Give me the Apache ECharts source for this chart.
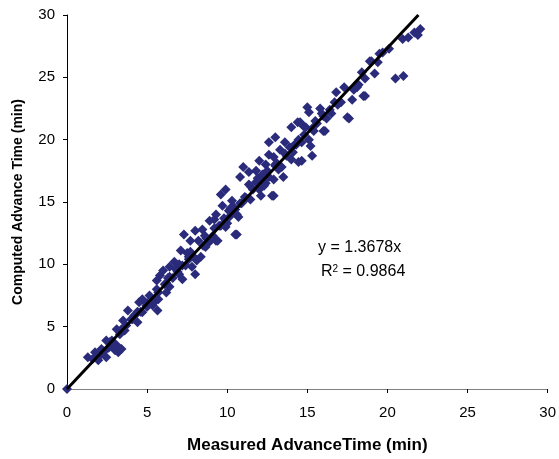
<!DOCTYPE html>
<html><head><meta charset="utf-8">
<script src="https://cdn.jsdelivr.net/npm/echarts@6/dist/echarts.min.js"></script>
<style>html,body{margin:0;padding:0;background:#fff;overflow:hidden}#c{width:559px;height:459px}</style>
</head><body><div id="c"></div>
<script>
const measured = [0,
22.05,21.68,20.95,19.5,19.0,18.4,18.6,19.2,20.5,21.0,18.5,18.2,
18.9,19.4,18.1,17.3,16.8,17.0,18.6,15.0,15.1,15.8,15.9,16.5,17.6,16.2,14.4,14.75,15.3,16.1,15.1,14.65,15.2,
17.5,14.55,14.0,14.9,16.0,15.4,13.0,12.6,13.6,14.45,13.9,13.3,12.6,12.9,14.0,14.65,15.3,12.0,12.4,13.0,13.4,11.8,12.5,12.1,11.8,12.6,13.5,12.8,11.35,12.0,
14.45,11.0,10.8,12.9,11.35,9.9,9.6,10.3,12.1,12.9,11.45,9.7,10.5,10.1,10.7,9.3,8.9,9.9,9.5,8.45,9.1,10.6,9.4,9.9,
9.2,10.6,9.6,8.0,7.3,10.5,7.7,8.2,9.3,8.65,7.1,7.7,8.35,7.6,6.7,6.4,7.2,7.8,6.0,5.8,6.4,7.0,8.0,7.2,5.6,6.1,5.6,6.4,5.15,5.7,5.35,
5.7,6.2,5.55,5.65,4.7,4.5,4.95,3.8,4.3,4.7,4.0,3.5,4.4,3.7,3.1,3.3,2.45,2.8,3.1,3.2,2.15,1.75,1.3,1.6,1.95,2.45,2.15,
2.6,3.0,3.4,2.9,1.9,2.3,3.6,4.1,4.6,5.0,5.3,6.6,6.9,7.4,7.9,8.5,8.8,9.0,10.0,10.2,10.9,11.2,11.6,12.3,13.2,13.7,14.2,15.6,16.4,17.1,17.8,
11.1,10.4,9.8,8.7,7.5,6.8,12.2,13.1,14.1,14.8,15.5,16.7,17.9,19.7,20.1,21.3,21.9,8.1,6.2,4.2,
10.2,10.8,11.5,11.9,12.4,13.0,13.6,14.3,8.6,9.2,9.8,7.0,7.6,6.3,5.0,4.4,3.4,2.7,16.0,16.9
];
const computed = [0,
28.87,28.6,28.07,26.9,26.3,25.4,24.9,25.3,24.9,25.1,23.5,24.4,
26.3,26.2,24.2,24.2,23.8,23.0,23.5,22.6,22.2,22.5,22.1,22.1,21.7,21.7,21.4,21.1,20.9,20.7,20.0,19.8,19.5,
21.8,21.4,21.0,21.0,20.7,20.7,20.2,19.8,19.8,20.0,19.4,19.2,18.8,18.6,18.4,18.3,18.7,18.3,18.0,17.9,17.8,17.5,17.5,16.8,16.6,17.0,17.0,15.5,17.4,16.0,
18.2,17.8,17.0,16.8,16.4,16.0,15.6,15.1,15.5,15.5,15.2,14.7,14.4,14.3,13.8,14.0,13.5,13.5,13.1,12.8,12.3,12.4,11.9,13.0,
13.6,14.0,13.1,12.7,12.4,12.4,11.9,11.9,11.9,11.4,11.1,11.0,10.6,10.4,10.2,9.8,9.9,9.8,9.5,9.1,9.0,9.2,9.2,8.8,8.7,8.4,8.0,8.2,7.5,7.2,6.7,
7.75,7.75,7.1,6.3,7.2,6.95,6.7,6.3,6.0,6.15,5.6,5.5,5.35,5.1,4.8,4.4,3.9,3.9,3.5,2.95,3.2,2.95,2.55,2.4,2.3,2.55,2.8,
3.3,3.1,3.2,3.6,2.7,3.0,4.7,5.6,6.2,6.6,7.0,8.9,9.4,9.9,10.6,11.5,11.7,12.0,13.3,13.9,14.9,15.3,16.0,16.3,17.6,18.7,19.6,21.3,22.4,23.0,23.2,
15.4,14.6,13.2,12.1,10.9,9.6,17.2,18.1,19.0,20.4,21.5,23.0,24.0,27.0,27.3,28.2,28.4,10.3,8.5,5.9,
14.5,14.9,16.2,16.9,16.5,18.0,18.9,19.6,12.3,12.9,13.7,10.0,10.6,8.9,6.9,6.2,4.8,3.8,21.9,22.8
];
const slope = 1.3678;
const trendX = [0, 30 / slope];
const xTicks = [0, 5, 10, 15, 20, 25, 30];
const yTicks = [0, 5, 10, 15, 20, 25, 30];
const equationText = 'y = 1.3678x';
const r2Text = '0.9864';

const pts = measured.map((x, i) => [x, computed[i]]);
const chart = echarts.init(document.getElementById('c'), null, {renderer: 'canvas'});
const font = 'Liberation Sans, Arial, sans-serif';
chart.setOption({
  animation: false,
  backgroundColor: '#fff',
  grid: {left: 67, right: 8, top: 15, bottom: 66},
  xAxis: {
    type: 'value', min: 0, max: 30, interval: 5,
    name: 'Measured AdvanceTime (min)', nameLocation: 'middle', nameGap: 48,
    nameTextStyle: {fontFamily: font, fontWeight: 'bold', fontSize: 17, color: '#000'},
    axisLine: {onZero: false, lineStyle: {color: '#808080', width: 1}},
    axisTick: {show: true, inside: false, length: 4, lineStyle: {color: '#000'}},
    axisLabel: {fontFamily: font, fontSize: 15, color: '#000', margin: 16},
    splitLine: {show: false}
  },
  yAxis: {
    type: 'value', min: 0, max: 30, interval: 5,
    name: 'Computed Advance Time (min)', nameLocation: 'middle', nameGap: 42, nameRotate: 90,
    nameTextStyle: {fontFamily: font, fontWeight: 'bold', fontSize: 14, color: '#000'},
    axisLine: {show: true, onZero: false, lineStyle: {color: '#000', width: 1}},
    axisTick: {show: true, inside: false, length: 4, lineStyle: {color: '#000'}},
    axisLabel: {fontFamily: font, fontSize: 15, color: '#000', margin: 12},
    splitLine: {show: false}
  },
  series: [
    {
      type: 'scatter', data: pts, symbol: 'diamond', symbolSize: 10,
      itemStyle: {color: '#2b2b7c', opacity: 1}, z: 2
    },
    {
      type: 'line', data: trendX.map(x => [x, slope * x]), showSymbol: false, symbol: 'none',
      lineStyle: {color: '#000', width: 3}, z: 3, silent: true
    }
  ],
  graphic: [
    {type: 'text', left: 318, top: 240, style: {text: equationText, font: '16px ' + font, fill: '#000'}},
    {type: 'text', left: 321, top: 264, style: {
      rich: {r: {font: '16px ' + font, fill: '#000'}, s: {font: '10px ' + font, fill: '#000', verticalAlign: 'top', padding: [0,0,6,0]}},
      text: '{r|R}{s|2}{r| = ' + r2Text + '}'
    }}
  ]
});
</script></body></html>
